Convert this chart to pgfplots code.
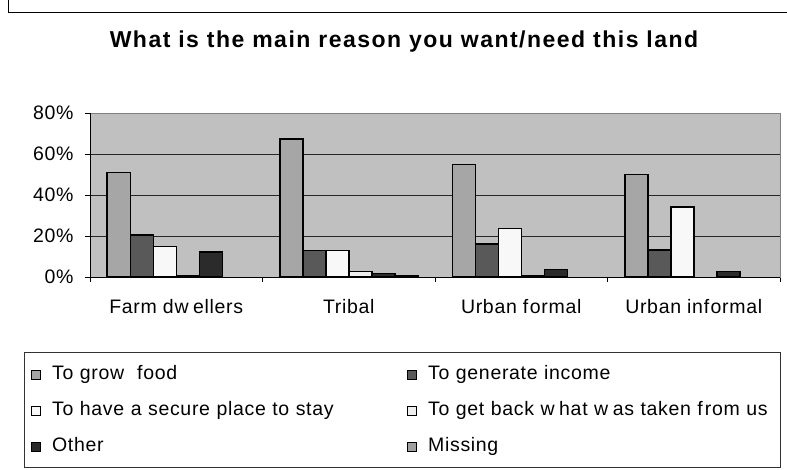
\documentclass[border=0pt]{standalone}
\usepackage{pgfplots}
\pgfplotsset{compat=1.18}
\usepackage{fontspec}
\setmainfont{Liberation Sans}
\definecolor{sA}{HTML}{A6A6A6}
\definecolor{sB}{HTML}{595959}
\definecolor{sC}{HTML}{F8F8F8}
\definecolor{sD}{HTML}{EEEEEE}
\definecolor{sE}{HTML}{2B2B2B}
\definecolor{sF}{HTML}{A0A0A0}
\definecolor{bgc}{HTML}{C0C0C0}
\newcommand{\chartfont}{\fontsize{19.5}{23}\selectfont\addfontfeatures{LetterSpace=3.5}}
\begin{document}
\begin{tikzpicture}[x=1pt,y=1pt]
\path[use as bounding box] (0,0) rectangle (787,469);
\draw[black, line width=1pt] (8,480) -- (8,456) -- (800,456);
\node[font=\fontsize{23}{27}\selectfont\bfseries\addfontfeatures{LetterSpace=6.5}] at (404,427) {What is the main reason you want/need this land};
\draw[black!80, line width=1pt] (24,117) rectangle (780,2);
\begin{axis}[
  at={(90pt,192pt)}, anchor=south west,
  scale only axis, width=690pt, height=164pt,
  xmin=-0.5, xmax=3.5, ymin=0, ymax=80,
  axis background/.style={fill=bgc},
  axis line style={draw=gray, line width=1pt},
  ytick={0,20,40,60,80},
  yticklabel={\pgfmathprintnumber{\tick}\%},
  /pgf/number format/assume math mode=true,
  ymajorgrids, major grid style={black!85, line width=1pt},
  xtick={0,1,2,3},
  xticklabels={Farm dw\kern4.5pt ellers, Tribal, Urban f\kern1.5pt ormal, Urban inf\kern1.5pt ormal},
  minor xtick={-0.5,0.5,1.5,2.5,3.5},
  major x tick style={draw=none},
  tick align=outside, tick pos=left,
  major tick length=5pt, minor tick length=5pt,
  tick style={black, line width=1pt},
  ticklabel style={font=\chartfont},
  yticklabel style={xshift=-8pt},
  xticklabel style={yshift=-14pt},
  ybar, bar width=23pt,
  every axis plot/.append style={draw=black, line width=1.5pt},
  legend columns=2,
  legend style={at={(-0.0899,-0.518)}, anchor=north west, draw=none, fill=none,
    font=\chartfont, row sep=15.3pt,
    /tikz/every odd column/.append style={column sep=9pt},
    nodes={text width=353pt, align=left, inner xsep=2pt, inner ysep=2pt, text height=13pt, text depth=4pt}},
  legend cell align=left,
  legend image code/.code={\draw[#1, line width=1pt] (0pt,-4.5pt) rectangle (9pt,4.5pt);},
]
\addplot[fill=sA, bar shift=-57.5pt] coordinates {(0,51.1) (1,67.3) (2,55.0) (3,50.1)};
\addplot[fill=sB, bar shift=-34.5pt] coordinates {(0,20.6) (1,13.0) (2,16.1) (3,13.2)};
\addplot[fill=sC, bar shift=-11.5pt] coordinates {(0,15.0) (1,13.0) (2,23.6) (3,34.1)};
\addplot[fill=sD, bar shift=11.5pt] coordinates {(0,0.8) (1,2.6) (2,0.8)};
\addplot[fill=sE, bar shift=34.5pt] coordinates {(0,12.2) (1,1.8) (2,3.6) (3,2.6)};
\addplot[fill=sF, bar shift=57.5pt] coordinates {(1,0.8)};
\legend{To grow\ \ food, To generate income, To have a secure place to stay, To get back w\kern4.5pt hat w\kern4.5pt as taken f\kern2pt rom us, Other, Missing}
\draw[black, line width=1pt] (rel axis cs:0,1) -- (rel axis cs:0,0) -- (rel axis cs:1,0);
\end{axis}
\end{tikzpicture}
\end{document}
